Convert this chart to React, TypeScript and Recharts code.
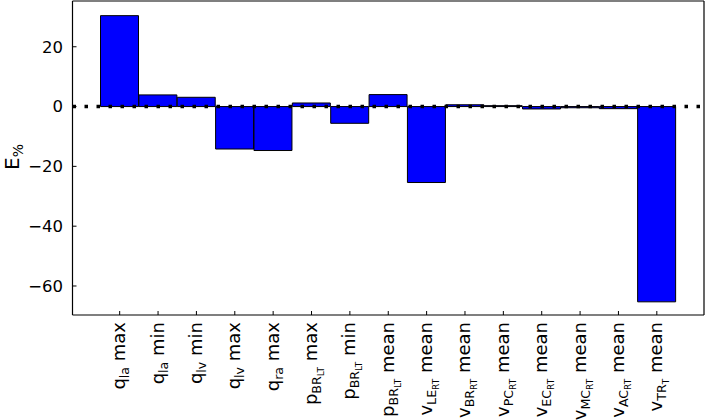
import { BarChart, Bar, XAxis, YAxis, ReferenceLine } from 'recharts'

// relative error per output quantity
const FONT = '"DejaVu Sans", sans-serif'

const symbols = ['q', 'q', 'q', 'q', 'q', 'p', 'p', 'p', 'v', 'v', 'v', 'v', 'v', 'v', 'v']
const subscripts = ['la', 'la', 'lv', 'lv', 'ra', 'BR', 'BR', 'BR', 'LE', 'BR', 'PC', 'EC', 'MC', 'AC', 'TR']
const subSubscripts = ['', '', '', '', '', 'LT', 'LT', 'LT', 'RT', 'RT', 'RT', 'RT', 'RT', 'RT', 'T']
const stats = ['max', 'min', 'min', 'max', 'max', 'max', 'min', 'mean', 'mean', 'mean', 'mean', 'mean', 'mean', 'mean', 'mean']
const errors = [30.4, 3.9, 3.1, -14.2, -14.7, 1.2, -5.6, 4.0, -25.4, 0.6, 0.3, -0.8, -0.4, -0.7, -65.3]
const yTicks = [-60, -40, -20, 0, 20]
const Y_MIN = -69.7
const Y_MAX = 35.3

const categories = symbols.map((s, i) => `${s}_${subscripts[i]}_${subSubscripts[i]} ${stats[i]}`)
const data = categories.map((name, i) => ({ name, error: errors[i] }))

function CategoryTick(props: any) {
  const { x, y, payload } = props
  const i = categories.indexOf(payload.value)
  if (i < 0) return null
  const nested = subSubscripts[i] !== ''
  return (
    <g transform={`translate(${x},${y}) rotate(-90)`}>
      <text x={0} y={5.5} textAnchor="end" fontFamily={FONT} fontSize={18} fill="#000">
        <tspan>{symbols[i]}</tspan>
        <tspan fontSize={12.6} dy={4}>{subscripts[i]}</tspan>
        {nested && <tspan fontSize={9} dy={3}>{subSubscripts[i]}</tspan>}
        <tspan fontSize={18} dy={nested ? -7 : -4}>{'\u00a0' + stats[i]}</tspan>
      </text>
    </g>
  )
}

function YLabel() {
  return (
    <g transform="translate(18.5,157) rotate(-90)">
      <text x={0} y={0} textAnchor="middle" fontFamily={FONT} fontSize={20} fill="#000">
        <tspan>E</tspan>
        <tspan fontSize={14} dy={4}>%</tspan>
      </text>
    </g>
  )
}

export default function App() {
  const axisLine = { stroke: '#000', strokeWidth: 1.2 }
  return (
    <div style={{ width: 706, height: 420 }}>
      <style>{'body{margin:0;background:#fff}'}</style>
      <BarChart
        width={706}
        height={420}
        data={data}
        margin={{ top: 0, right: 1, bottom: 0, left: 0 }}
        barCategoryGap={0}
      >
        <XAxis
          dataKey="name"
          height={105}
          padding={{ left: 28, right: 28 }}
          axisLine={axisLine}
          tickLine={{ stroke: '#000', strokeWidth: 1 }}
          tickSize={-4}
          tickMargin={11}
          interval={0}
          tick={<CategoryTick />}
        />
        <XAxis
          xAxisId="top"
          dataKey="name"
          orientation="top"
          height={1}
          axisLine={axisLine}
          tick={false}
          tickLine={false}
        />
        <YAxis
          width={72.5}
          domain={[Y_MIN, Y_MAX]}
          ticks={yTicks}
          allowDataOverflow
          axisLine={axisLine}
          tickLine={{ stroke: '#000', strokeWidth: 1 }}
          tickSize={-4}
          tickMargin={13.5}
          tickFormatter={(v: number) => String(v).replace('-', '\u2212')}
          tick={{ fontSize: 16.5, fill: '#000', fontFamily: FONT }}
          label={<YLabel />}
        />
        <YAxis
          yAxisId="right"
          orientation="right"
          width={1}
          domain={[Y_MIN, Y_MAX]}
          allowDataOverflow
          axisLine={axisLine}
          tick={false}
          tickLine={false}
        />
        <Bar dataKey="error" fill="#0000ff" stroke="#000" strokeWidth={1} isAnimationActive={false} />
        <ReferenceLine y={0} stroke="#000" strokeWidth={3.5} strokeDasharray="3.5 8.5" />
      </BarChart>
    </div>
  )
}
